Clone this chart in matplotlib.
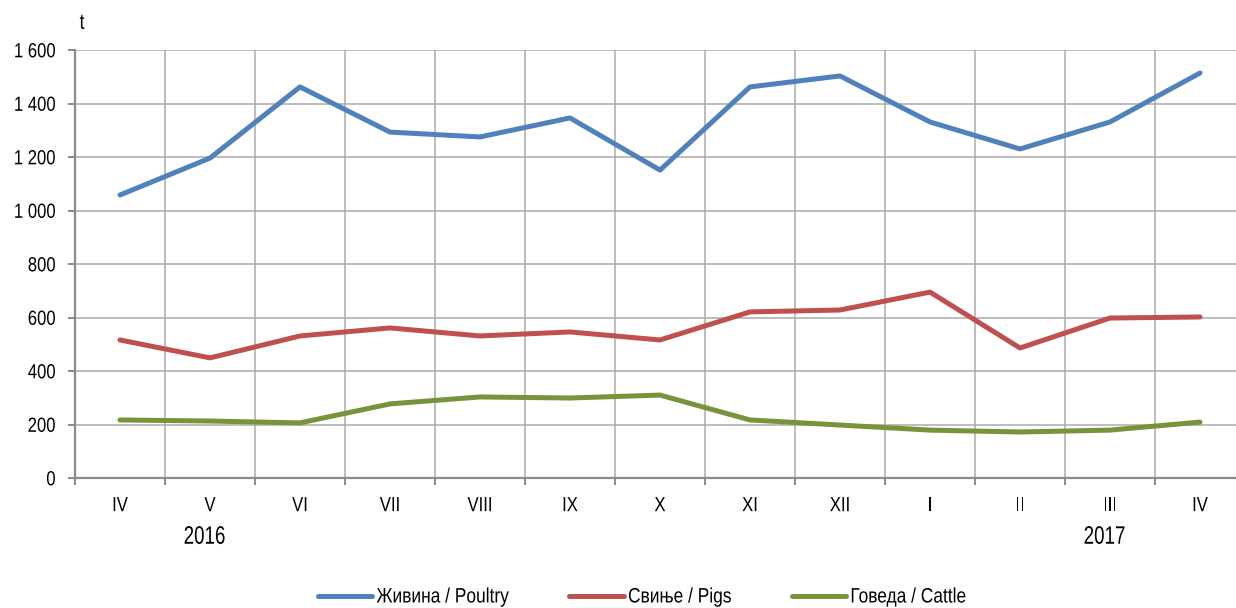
import matplotlib
matplotlib.use("Agg")
import matplotlib.pyplot as plt
from matplotlib.ticker import FuncFormatter, FixedLocator
from matplotlib.patheffects import AbstractPathEffect
from matplotlib.transforms import Affine2D
import matplotlib.transforms as mtransforms

months = ["IV", "V", "VI", "VII", "VIII", "IX", "X", "XI", "XII", "I", "II", "III", "IV"]
years = ["2016", "2017"]
year_pos = [1.44, 11.44]

poultry = [1058, 1196, 1462, 1293, 1275, 1346, 1151, 1462, 1503, 1331, 1230, 1331, 1514]
pigs = [516, 449, 531, 561, 531, 546, 516, 621, 628, 695, 486, 598, 602]
cattle = [217, 213, 206, 277, 303, 299, 310, 217, 198, 179, 172, 179, 209]

series_names = ["Живина / Poultry", "Свиње / Pigs", "Говеда / Cattle"]
colors = ["#4F81BD", "#C0504D", "#77933C"]

plt.rcParams['font.family'] = ['Liberation Sans', 'DejaVu Sans']


class VStretch(AbstractPathEffect):
    """Stretch text vertically about its centre (narrow-looking font)."""
    def __init__(self, k):
        super().__init__()
        self.k = k

    def draw_path(self, renderer, gc, tpath, affine, rgbFace=None):
        ext = tpath.get_extents(affine)
        cy = (ext.y0 + ext.y1) / 2
        new = affine + Affine2D().translate(0, -cy).scale(1, self.k).translate(0, cy)
        renderer.draw_path(gc, tpath, new, rgbFace)


W, H = 1236, 608
fig = plt.figure(figsize=(W / 100, H / 100), dpi=100)
ax = fig.add_axes([75 / W, (H - 478) / H, 1170 / W, 428 / H])

x = [i + 0.5 for i in range(len(months))]
for vals, name, c in zip([poultry, pigs, cattle], series_names, colors):
    ax.plot(x, vals, color=c, lw=3.6, label=name, solid_capstyle='round', solid_joinstyle='round')

ax.set_xlim(0, len(months))
ax.set_ylim(0, 1600)
ax.set_yticks(range(0, 1601, 200))
ax.yaxis.set_major_formatter(FuncFormatter(lambda v, p: f"{int(v):,}".replace(",", " ")))

ax.xaxis.set_major_locator(FixedLocator(range(0, len(months) + 1)))
ax.xaxis.set_minor_locator(FixedLocator(x))
ax.set_xticklabels([])
ax.set_xticklabels(months, minor=True)

gridc = "#ABABAB"
ax.grid(True, which='major', color=gridc, lw=1.1)
ax.set_axisbelow(True)
for s in ["top", "right"]:
    ax.spines[s].set_visible(False)
for s in ["left", "bottom"]:
    ax.spines[s].set_color("#8A8A8A")
    ax.spines[s].set_linewidth(1.6)

ax.tick_params(axis='y', which='major', length=5, width=1.4, color="#8A8A8A", labelsize=12, pad=9)
ax.tick_params(axis='x', which='major', length=5, width=1.4, color="#8A8A8A")
ax.tick_params(axis='x', which='minor', length=0, labelsize=12, pad=14.3)

for lbl in ax.get_yticklabels() + ax.get_xticklabels(minor=True):
    lbl.set_path_effects([VStretch(1.23)])

trans = mtransforms.blended_transform_factory(ax.transData, fig.transFigure)
for yr, xp in zip(years, year_pos):
    t = ax.text(xp, 1 - 537 / H, yr, transform=trans, ha='center', va='center', fontsize=13.5)
    t.set_path_effects([VStretch(1.35)])

tt = fig.text(82 / W, 1 - 23 / H, "t", ha='center', va='center', fontsize=12.5)
tt.set_path_effects([VStretch(1.25)])

leg = fig.legend(loc='center', bbox_to_anchor=(642 / W, 1 - 597 / H), ncol=3, frameon=False,
                 fontsize=12.5, handlelength=3.15, handletextpad=0.23, columnspacing=3.45)
for t in leg.get_texts():
    t.set_path_effects([VStretch(1.2)])
for l in leg.get_lines():
    l.set_linewidth(3.6)

fig.savefig("out.png", dpi=100)
